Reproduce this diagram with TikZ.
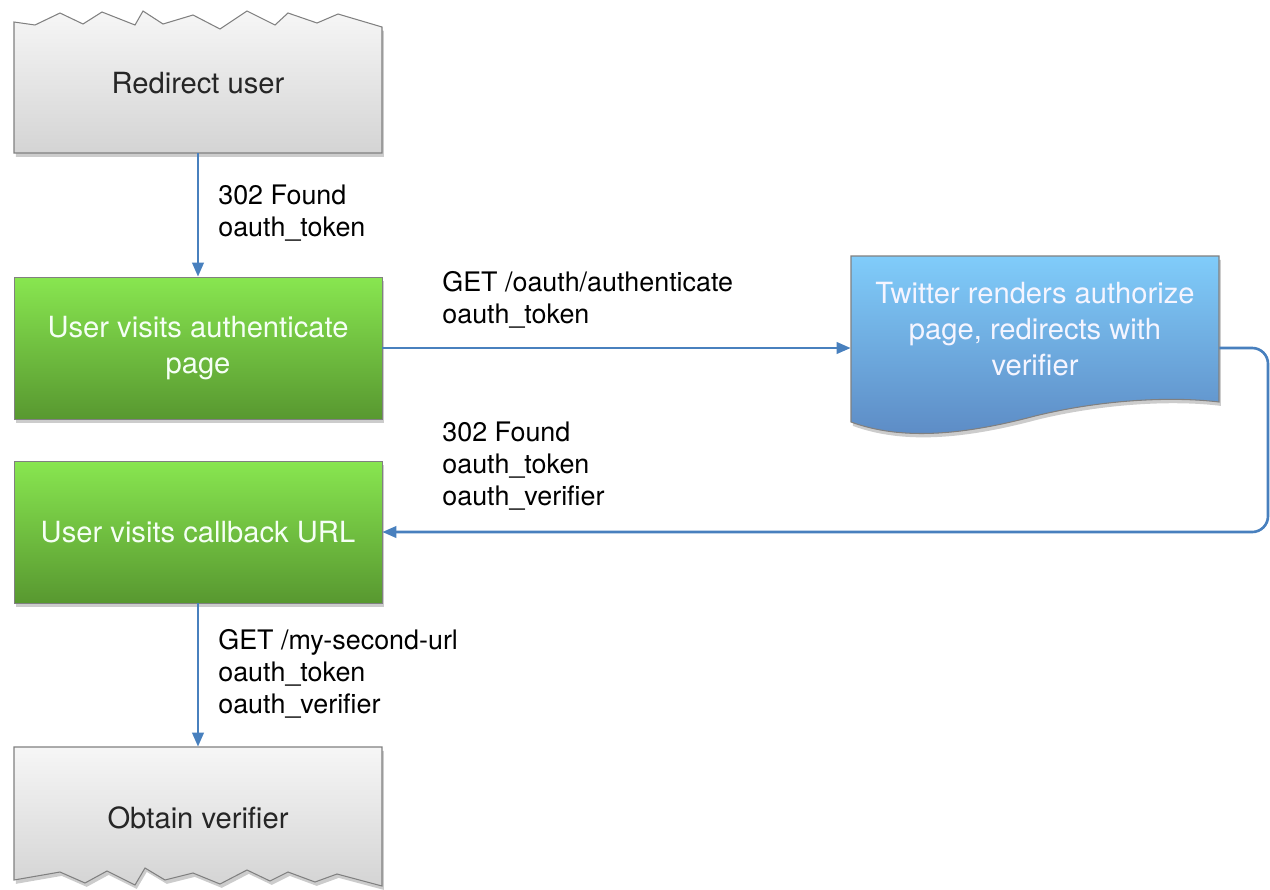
\documentclass[tikz,border=0pt]{standalone}
\usepackage{fontspec}
\setmainfont{TeX Gyre Heros}
\usetikzlibrary{arrows.meta,shadows}
\definecolor{flowblue}{RGB}{72,128,190}
\definecolor{greentop}{RGB}{136,230,80}
\definecolor{greenbot}{RGB}{88,152,48}
\definecolor{bluetop}{RGB}{128,204,250}
\definecolor{bluebot}{RGB}{92,138,196}
\definecolor{graytop}{RGB}{246,246,246}
\definecolor{graybot}{RGB}{212,212,212}
\definecolor{edgegray}{RGB}{128,128,128}
\begin{document}
\begin{tikzpicture}[x=0.02cm,y=-0.02cm,
    flow/.style={draw=flowblue,line width=1.5pt,-{Triangle[length=8pt,width=6.5pt]}},
    boxtext/.style={minimum width=7.36cm,font=\fontsize{16.6}{20.4}\selectfont,align=center,inner sep=0pt},
    boxshadow/.style={drop shadow={opacity=0.4,shadow xshift=1pt,shadow yshift=-2.2pt}},
    greenbox/.style={boxtext,minimum height=2.84cm,draw=edgegray,top color=greentop,bottom color=greenbot,text=white!96!green,boxshadow},
    graybox/.style={draw=edgegray,line width=0.6pt,top color=graytop,bottom color=graybot,boxshadow},
    bluebox/.style={draw=edgegray,line width=0.6pt,top color=bluetop,bottom color=bluebot,boxshadow},
    lbl/.style={anchor=west,align=left,inner sep=0pt,font=\fontsize{15.3}{18.2}\selectfont}]
    \useasboundingbox (0,0) rectangle (1270,889);
    \newcommand{\tornTop}
    {(14,22)(35,25)(60,13)(83,24)(102,12)(135,25)(143,11)(163,24)(193,15)(220,29)(247,11)(275,25)(288,13)(317,23)(338,14)(382,27)}
    \newcommand{\tornBottom}
    {(382,886)(337,874)(315,882)(288,872)(270,881)(247,870)(220,884)(193,873)(165,880)(145,868)(135,885)(107,871)(85,883)(60,872)(14,880)}
    % torn boxes and the twitter page
    \path[graybox] plot coordinates {\tornTop} -- (382,153) -- (14,153) -- cycle;
    \path[graybox] (14,747) -- (382,747) -- plot coordinates {\tornBottom} -- cycle;
    \path[bluebox] (851,256) -- (1219,256) -- (1219,402)
        .. controls (1170,396) and (1100,400) .. (1035,416)
        .. controls (960,436) and (900,440) .. (851,422) -- cycle;
    % nodes
    \node[boxtext,minimum height=2.8cm,text=black!85] (redirect) at (198,83) {Redirect user};
    \node[greenbox] (auth) at (198,348) {User visits authenticate\\page};
    \node[greenbox] (callback) at (198,532) {User visits callback URL};
    \node[boxtext,minimum height=2.92cm,text=white!96!blue] (twitter) at (1035,329) {Twitter renders authorize\\page, redirects with\\verifier};
    \node[boxtext,minimum height=2.84cm,text=black!85] (obtain) at (198,818) {Obtain verifier};
    \coordinate (turn) at (1268,0);
    % connectors
    \draw[flow] (redirect.south) -- (auth.north);
    \draw[flow] (auth.east) -- (twitter.west |- auth);
    \draw[flow,rounded corners=9pt] (twitter.east |- auth) -| (turn |- callback) -- (callback.east);
    \draw[flow] (callback.south) -- (obtain.north);
    % labels
    \node[lbl] (lblfound) at (218,213) {302 Found\\oauth\_token};
    \node[lbl] (lblauth) at (442,300) {GET /oauth/authenticate\\oauth\_token};
    \node[lbl] (lblverify) at (442,466) {302 Found\\oauth\_token\\oauth\_verifier};
    \node[lbl] (lblsecond) at (218,674) {GET /my-second-url\\oauth\_token\\oauth\_verifier};
\end{tikzpicture}
\end{document}
